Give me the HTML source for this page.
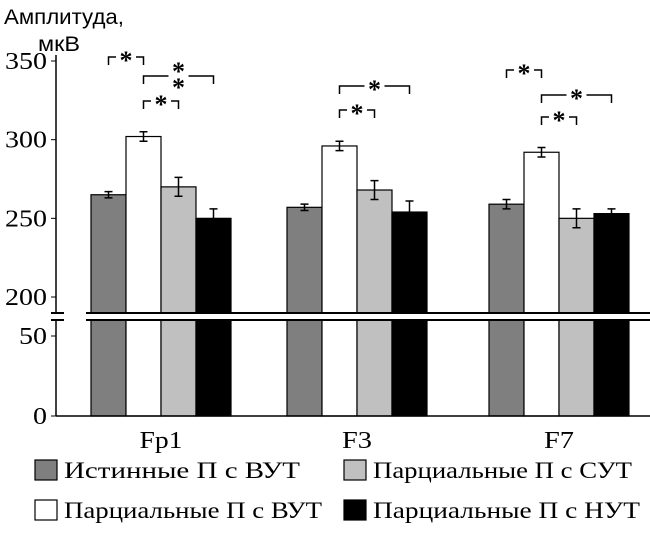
<!DOCTYPE html>
<html><head><meta charset="utf-8"><style>
body{margin:0;background:#fff;}
svg text{font-family:"Liberation Serif",serif;}
</style></head><body>
<svg id="c" width="650" height="529" xmlns="http://www.w3.org/2000/svg">
<text x="4" y="24" font-size="21" textLength="120" lengthAdjust="spacingAndGlyphs" style="font-family:'Liberation Sans',sans-serif">Амплитуда,</text>
<text x="38" y="51" font-size="21" textLength="42" lengthAdjust="spacingAndGlyphs" style="font-family:'Liberation Sans',sans-serif">мкВ</text>
<g id="g"></g>
</svg>
<script>
const categories=["Fp1","F3","F7"];
const seriesNames=["Истинные П с ВУТ","Парциальные П с ВУТ","Парциальные П с СУТ","Парциальные П с НУТ"];
const colors=["#7f7f7f","#ffffff","#c0c0c0","#000000"];
const values=[[265,257,259],[302,296,292],[270,268,250],[250,254,253]];
const errors=[[2,2,3],[3,3,3],[6,6,6],[6,7,3]];
const upperTicks=[200,250,300,350];
const lowerTicks=[0,50];
const sig=[[0,0,1,57,1],[0,1,3,76,2],[0,1,2,101,1],[1,1,3,86,1],[1,1,2,110,1],[2,0,1,70,1],[2,1,3,95,1],[2,1,2,117,1]];
const NS="http://www.w3.org/2000/svg";
const g=document.getElementById('g');
function mk(t,a,p){const e=document.createElementNS(NS,t);for(const k in a)e.setAttribute(k,a[k]);(p||g).appendChild(e);return e;}
const yU=v=>297-(v-200)*236/150;
const yL=v=>416-v*1.6;
const groupX=[91,287,489], bw=35;
const bx=(c,s)=>groupX[c]+s*bw;
categories.forEach((cat,c)=>{
 for(let s=0;s<4;s++){
  const x=bx(c,s),v=values[s][c];
  const r=mk('rect',{x:x,y:yU(v),width:bw,height:416-yU(v),fill:colors[s],stroke:'#000','stroke-width':1.2});
  
  
  const cx=x+bw/2,e=errors[s][c];
  const eb=mk('path',{d:`M${cx},${yU(v+e)}V${yU(v-e)}M${cx-4},${yU(v+e)}H${cx+4}M${cx-4},${yU(v-e)}H${cx+4}`,stroke:'#000','stroke-width':1.5,fill:'none'});
  
  
 }
 const t=mk('text',{x:groupX[c]+2*bw,y:448,'text-anchor':'middle','font-size':24,textLength:cat.length*13+4,lengthAdjust:'spacingAndGlyphs'});
 t.textContent=cat;
 
 
});
mk('line',{x1:56,y1:55,x2:56,y2:416,stroke:'#000','stroke-width':1.5});
mk('line',{x1:56,y1:416,x2:650,y2:416,stroke:'#000','stroke-width':1.5});
function tick(v,y){mk('line',{x1:51,y1:y,x2:56,y2:y,stroke:'#000'});
 const s=String(v);
 const t=mk('text',{x:47-s.length*14,y:y+8,'font-size':24,textLength:s.length*14,lengthAdjust:'spacingAndGlyphs'});t.textContent=s;
 
 }
upperTicks.forEach(v=>tick(v,yU(v)));
lowerTicks.forEach(v=>tick(v,yL(v)));
const br=mk('rect',{x:50,y:313,width:600,height:8,fill:'#fff'});


[[51,64],[86,650]].forEach(([a,b])=>{mk('line',{x1:a,y1:313,x2:b,y2:313,stroke:'#000','stroke-width':2});mk('line',{x1:a,y1:320,x2:b,y2:320,stroke:'#000','stroke-width':2});});
sig.forEach(([c,a,b,y,n])=>{
 const x1=bx(c,a)+bw/2,x2=bx(c,b)+bw/2,m=(x1+x2)/2;
 const p=mk('path',{d:`M${x1},${y+8}V${y}H${m-10}M${m+10},${y}H${x2}V${y+8}`,stroke:'#000','stroke-width':1.5,fill:'none'});
 
 
 for(let k=0;k<n;k++){const t=mk('text',{x:m,y:(n==2?y-8+k*16:y)+12,'text-anchor':'middle','font-size':26,'font-weight':'bold'});t.textContent='*';
 
 }
});
const lp=[[35,460],[35,500],[344,460],[344,500]];
const lw=[236,258,259,267];
[0,1,2,3].forEach((s,i)=>{const [x,y]=lp[i];
 const r=mk('rect',{x:x,y:y,width:22,height:20,fill:colors[s],stroke:'#000','stroke-width':1.2});
 
 
 const t=mk('text',{x:x+29,y:y+18,'font-size':23,textLength:lw[s],lengthAdjust:'spacingAndGlyphs'});t.textContent=seriesNames[s];
 
 });
</script>
</body></html>
